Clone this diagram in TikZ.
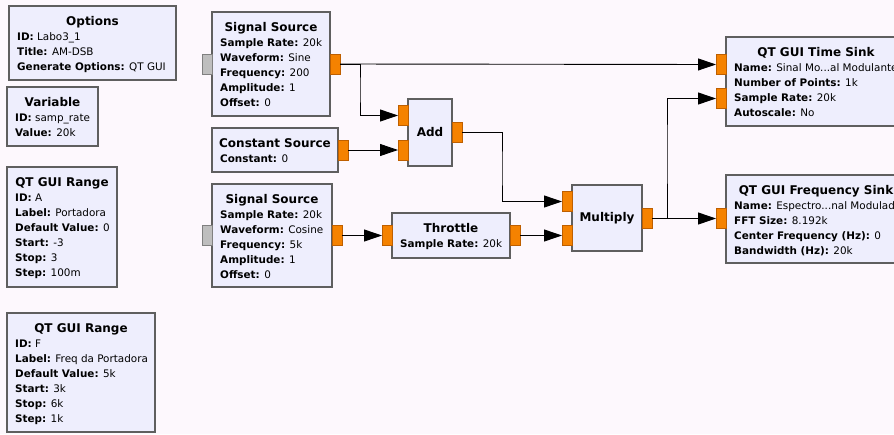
\documentclass[tikz,border=0pt]{standalone}
\usepackage{fontspec}
\setmainfont{DejaVu Sans}
\usetikzlibrary{calc,arrows.meta}
\definecolor{bgc}{RGB}{253,248,253}
\definecolor{blkfill}{RGB}{238,238,253}
\definecolor{blkdraw}{RGB}{95,95,95}
\definecolor{portfill}{RGB}{245,130,0}
\definecolor{portdraw}{RGB}{190,95,0}
\definecolor{grayport}{RGB}{190,190,190}
\newcommand{\kv}[2]{\textbf{#1:} #2}
\newcommand{\grcblock}[7]{%
  \node[blockbox, minimum width=#4pt, minimum height=#5pt, anchor=north west] (#1) at (#2,#3) {};
  \node[titletext, anchor=base] (#1-t) at ($(#1.north)+(0,19)$) {#6};
  \node[bodytext, anchor=north west] (#1-b) at ($(#1.north west)+(8,26.3)$) {#7};
}
\begin{document}
\begin{tikzpicture}[x=1pt,y=-1pt,
  blockbox/.style={draw=blkdraw, fill=blkfill, line width=1.1pt, inner sep=0pt, outer sep=0pt},
  titletext/.style={font=\fontsize{12}{14}\selectfont\bfseries, inner sep=0pt},
  bodytext/.style={font=\fontsize{10.4}{15}\selectfont, align=left, inner sep=0pt},
  oport/.style={draw=portdraw, fill=portfill, line width=0.6pt, minimum width=10pt, minimum height=20pt, inner sep=0pt, outer sep=0pt},
  gport/.style={draw=gray, fill=grayport, line width=0.6pt, minimum width=10pt, minimum height=20pt, inner sep=0pt, outer sep=0pt},
  wire/.style={draw=black, line width=0.9pt},
  arr/.style={wire, -{Triangle[length=18pt,width=12pt]}}
]
\useasboundingbox (0,0) rectangle (894,434);
\fill[bgc] (0,0) rectangle (894,434);
\clip (0,0) rectangle (894,434);

\grcblock{opt}{9}{6}{167}{74}{Options}{\kv{ID}{Labo3\_1}\\\kv{Title}{AM-DSB}\\\kv{Generate Options}{QT GUI}}
\grcblock{var}{7}{87}{91}{59}{Variable}{\kv{ID}{samp\_rate}\\\kv{Value}{20k}}
\grcblock{rngA}{7}{167}{110}{120}{QT GUI Range}{\kv{ID}{A}\\\kv{Label}{Portadora}\\\kv{Default Value}{0}\\\kv{Start}{-3}\\\kv{Stop}{3}\\\kv{Step}{100m}}
\grcblock{rngF}{7}{313}{148}{119}{QT GUI Range}{\kv{ID}{F}\\\kv{Label}{Freq da Portadora}\\\kv{Default Value}{5k}\\\kv{Start}{3k}\\\kv{Stop}{6k}\\\kv{Step}{1k}}
\grcblock{ssa}{212}{12}{118}{104}{Signal Source}{\kv{Sample Rate}{20k}\\\kv{Waveform}{Sine}\\\kv{Frequency}{200}\\\kv{Amplitude}{1}\\\kv{Offset}{0}}
\grcblock{cs}{212}{128}{126}{44}{Constant Source}{\kv{Constant}{0}}
\grcblock{ssb}{212}{184}{120}{103}{Signal Source}{\kv{Sample Rate}{20k}\\\kv{Waveform}{Cosine}\\\kv{Frequency}{5k}\\\kv{Amplitude}{1}\\\kv{Offset}{0}}
\grcblock{thr}{392}{213}{118}{45}{Throttle}{\kv{Sample Rate}{20k}}
\grcblock{ts}{726}{37}{180}{89}{QT GUI Time Sink}{\kv{Name}{Sinal Mo...al Modulante}\\\kv{Number of Points}{1k}\\\kv{Sample Rate}{20k}\\\kv{Autoscale}{No}}
\grcblock{fs}{726}{175}{180}{88}{QT GUI Frequency Sink}{\kv{Name}{Espectro...nal Modulado}\\\kv{FFT Size}{8.192k}\\\kv{Center Frequency (Hz)}{0}\\\kv{Bandwidth (Hz)}{20k}}

\node[blockbox, minimum width=44pt, minimum height=67pt, anchor=north west] (add) at (408,99) {};
\node[titletext] (add-t) at (add.center) {Add};
\node[blockbox, minimum width=70pt, minimum height=66pt, anchor=north west] (mul) at (572,185) {};
\node[titletext] (mul-t) at (mul.center) {Multiply};

% ports
\node[gport] (ssa-in) at (207,64) {};
\node[oport] (ssa-out) at (335,64) {};
\node[oport] (cs-out) at (343,150) {};
\node[oport] (add-in1) at (403,115.5) {};
\node[oport] (add-in2) at (403,150) {};
\node[oport] (add-out) at (457,132) {};
\node[gport] (ssb-in) at (207,235.5) {};
\node[oport] (ssb-out) at (337,235.5) {};
\node[oport] (thr-in) at (387,235.5) {};
\node[oport] (thr-out) at (515,235.5) {};
\node[oport] (mul-in1) at (567,201.5) {};
\node[oport] (mul-in2) at (567,235.5) {};
\node[oport] (mul-out) at (647,218.5) {};
\node[oport] (ts-in1) at (721,64.5) {};
\node[oport] (ts-in2) at (721,98.5) {};
\node[oport] (fs-in) at (721,218.5) {};

% wires
\draw[arr] (ssa-out.east) -- (ts-in1.west);
\draw[arr] (ssa-out.east) -| (360,90) |- (add-in1.west);
\draw[arr] (cs-out.east) -- (add-in2.west);
\draw[arr] (add-out.east) -| (502,170) |- (mul-in1.west);
\draw[arr] (ssb-out.east) -- (thr-in.west);
\draw[arr] (thr-out.east) -- (mul-in2.west);
\draw[arr] (mul-out.east) -- (fs-in.west);
\draw[arr] (mul-out.east) -| (667,150) |- (ts-in2.west);
\end{tikzpicture}
\end{document}
